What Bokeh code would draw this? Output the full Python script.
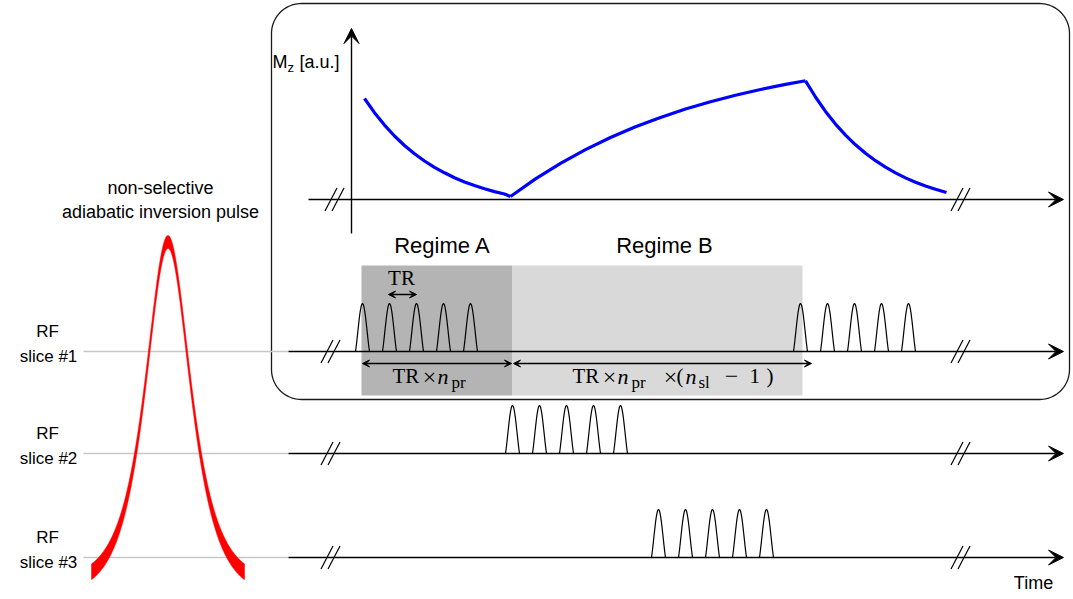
import numpy as np
from bokeh.plotting import figure
from bokeh.models import Range1d, Arrow, VeeHead
from bokeh.core.properties import value
from bokeh.embed import file_html
from bokeh.resources import INLINE

# ---------------- data (diagram units) ----------------
slice_rf = ["RF", "RF", "RF"]
slice_names = ["slice #1", "slice #2", "slice #3"]
slice_base = [351, 453, 557]                 # baseline of each RF timeline
train_starts = [[362, 800], [512], [658]]    # time of first pulse of each train
pulses_per_train = 5
tr_spacing = 27
pulse_height = 48

# longitudinal magnetisation Mz (three segments)
mz_t_a = [364, 374, 384, 394, 404, 414, 424, 434, 444, 454, 464, 474, 484, 494, 504, 510]
mz_v_a = [98, 112.2, 124.6, 135.5, 145.0, 153.2, 160.5, 166.8, 172.3, 177.2, 181.4,
          185.1, 188.3, 191.1, 193.5, 196]
mz_t_b = [510, 535, 560, 585, 610, 635, 660, 685, 710, 735, 760, 785, 805]
mz_v_b = [196, 178.4, 162.8, 149.1, 137.0, 126.3, 116.9, 108.5, 101.2, 94.7, 89.0, 83.9, 80.3]
mz_t_c = [805, 815, 825, 835, 845, 855, 865, 875, 885, 895, 905, 915, 925, 935, 946]
mz_v_c = [80.3, 96.5, 110.9, 123.6, 134.6, 144.3, 152.8, 160.2, 166.7, 172.4, 177.4,
          181.7, 185.5, 188.8, 192.0]

regime_names = ["Regime A", "Regime B"]
regime_start = [361, 512]
regime_end = [512, 802]

# ---------------- figure ----------------
W, H = 1073, 599
p = figure(width=W, height=H, x_range=Range1d(0, W), y_range=Range1d(H, 0),
           output_backend="svg", toolbar_location=None, min_border=0)
p.axis.visible = False
p.grid.visible = False
p.outline_line_color = None
p.background_fill_color = "white"
p.border_fill_color = "white"

SANS = value("Liberation Sans")
SERIF = value("Liberation Serif")

# grey regime regions
p.quad(left=[regime_start[0]], right=[regime_end[0]], top=[265], bottom=[395],
       fill_color="#b4b4b4", line_color=None)
p.quad(left=[regime_start[1]], right=[regime_end[1]], top=[265], bottom=[395],
       fill_color="#d9d9d9", line_color=None)

# rounded frame
L, R, T, B, r = 271, 1069, 3, 399, 30
def arc(cx, cy, a0, a1):
    th = np.linspace(a0, a1, 24)
    return cx + r * np.cos(th), cy + r * np.sin(th)
parts = [arc(R - r, T + r, -np.pi / 2, 0), arc(R - r, B - r, 0, np.pi / 2),
         arc(L + r, B - r, np.pi / 2, np.pi), arc(L + r, T + r, np.pi, 1.5 * np.pi)]
bx = np.concatenate([q[0] for q in parts] + [[parts[0][0][0]]])
by = np.concatenate([q[1] for q in parts] + [[parts[0][1][0]]])
p.line(bx, by, line_color="#1a1a1a", line_width=1.3)

# grey guide lines from labels
p.segment(x0=[83] * 3, x1=[288] * 3, y0=slice_base, y1=slice_base,
          line_color="#c8c8c8", line_width=1.5)

# time axes with arrows
head = dict(size=15, fill_color="black", line_color="black")
for yb in slice_base:
    p.add_layout(Arrow(end=VeeHead(**head), x_start=288, y_start=yb, x_end=1063, y_end=yb,
                       line_color="black", line_width=1.4))
p.add_layout(Arrow(end=VeeHead(**head), x_start=308, y_start=199, x_end=1063, y_end=199,
                   line_color="black", line_width=1.4))
# Mz axis
p.add_layout(Arrow(end=VeeHead(**head), x_start=351, y_start=233, x_end=351, y_end=28,
                   line_color="black", line_width=1.4))

# break marks
bxs0, bxs1, bys0, bys1 = [], [], [], []
for yb, cs in [(199, (334, 960))] + [(yb, (330, 960)) for yb in slice_base]:
    for c in cs:
        for off in (-3.5, 3.5):
            bxs0.append(c + off - 6); bxs1.append(c + off + 6)
            bys0.append(yb + 11.5); bys1.append(yb - 11.5)
p.segment(x0=bxs0, x1=bxs1, y0=bys0, y1=bys1, line_color="black", line_width=1.2)

# RF pulses (sinc main lobes)
tt = np.linspace(-1, 1, 41)
xs, ys = [], []
for yb, starts in zip(slice_base, train_starts):
    for s in starts:
        for k in range(pulses_per_train):
            c = s + k * tr_spacing
            xs.append(c + 7 * tt)
            ys.append(yb - pulse_height * np.sinc(tt))
p.multi_line(xs, ys, line_color="black", line_width=1.2)

# Mz curve
for tx, vy in [(mz_t_a, mz_v_a), (mz_t_b, mz_v_b), (mz_t_c, mz_v_c)]:
    p.line(tx, vy, line_color="#0000ff", line_width=3.2, line_join="round")

# adiabatic inversion pulse (red band)
xr = np.linspace(91, 244, 300)
sech = 1 / np.cosh((xr - 167.5) / 20.2)
outer = 579 - 344 * sech
inner = np.minimum(595 - 347 * sech, 579)
p.patch(np.concatenate([xr, xr[::-1]]), np.concatenate([outer, inner[::-1]]),
        fill_color="#ff0000", line_color="#ff0000", line_width=0.5)

# dimension arrows
small = dict(size=7, fill_color="black", line_color="black")
for x0, x1, yy in [(362, 511, 363), (513, 811, 363), (388, 416, 294)]:
    p.add_layout(Arrow(start=VeeHead(**small), end=VeeHead(**small),
                       x_start=x0, y_start=yy, x_end=x1, y_end=yy,
                       line_color="black", line_width=1.3))

# ---------------- texts ----------------
def txt(x, y, t, font, size, align="center", style="normal"):
    p.text(x=x, y=y, text=t, text_font=font, text_font_size=size, text_align=align,
           text_baseline="middle", text_color="black", text_font_style=style)

txt([442, 664], [245, 245], regime_names, SANS, "22px")
txt([47] * 3, [yb - 20 for yb in slice_base], slice_rf, SANS, "17px")
txt([48] * 3, [yb + 5 for yb in slice_base], slice_names, SANS, "17px")
txt([160, 160], [187, 211], ["non-selective", "adiabatic inversion pulse"], SANS, "18px")
txt([1033], [582], ["Time"], SANS, "18px")
# Mz [a.u.]
txt([272, 299], [61, 61], ["M", "[a.u.]"], SANS, "18px", align="left")
txt([287], [67], ["z"], SANS, "13px", align="left")

# TR labels (serif, math style)
txt([401], [277], ["TR"], SERIF, "21px")
txt([392, 572], [375, 375], ["TR", "TR"], SERIF, "21px", align="left")
txt([429, 609, 670], [376] * 3, ["\u00d7"] * 3, SERIF, "24px")
txt([676, 749, 766], [375] * 3, ["(", "1", ")"], SERIF, "21px", align="left")
txt([731], [376], ["\u2212"], SERIF, "24px")
txt([437, 617, 685], [376] * 3, ["n", "n", "n"], SERIF, "22px", align="left", style="italic")
txt([451, 631, 698], [382] * 3, ["pr", "pr", "sl"], SERIF, "17px", align="left")

open("out.html", "w").write(file_html(p, INLINE))
